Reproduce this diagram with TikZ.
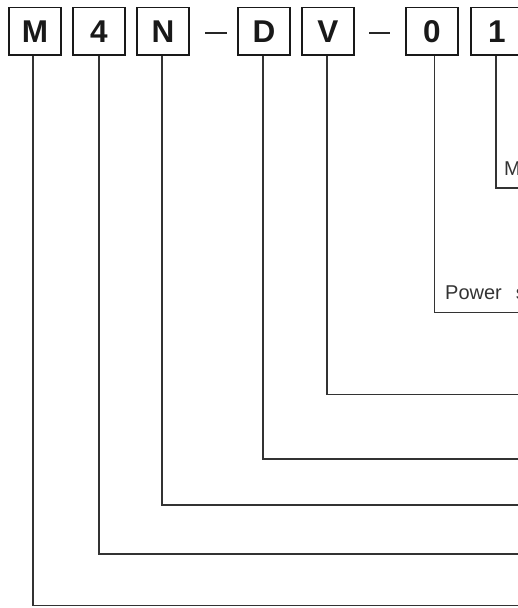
\documentclass[tikz,border=0pt]{standalone}
\usepackage{fontspec}
\setmainfont{Liberation Sans}
\begin{document}
\begin{tikzpicture}[x=1pt,y=-1pt,
  codebox/.style={draw=black!90,line width=1.6pt,minimum width=52pt,minimum height=47.5pt,inner sep=0pt,
    font=\fontsize{31.5}{31.5}\selectfont\bfseries,text=black!90},
  lead/.style={draw=black!80,line width=1.2pt},
  lbl/.style={font=\fontsize{20}{20}\selectfont,text=black!80,anchor=base west,inner sep=0pt},
  dashbar/.style={draw=black!85,line width=1.6pt}]
\useasboundingbox (0,0) rectangle (518,608);
\clip (0,0) rectangle (518,608);
% code boxes
\node[codebox] (bM) at (35,31.25) {M};
\node[codebox] (b4) at (99,31.25) {4};
\node[codebox] (bN) at (163,31.25) {N};
\node[codebox] (bD) at (264,31.25) {D};
\node[codebox] (bV) at (328,31.25) {V};
\node[codebox] (b0) at (432,31.25) {0};
\node[codebox] (b1) at (497,31.25) {1};
% separators
\coordinate (s1a) at (205,33); \coordinate (s1b) at (227,33);
\coordinate (s2a) at (369,33); \coordinate (s2b) at (390,33);
\draw[dashbar] (s1a) -- (s1b);
\draw[dashbar] (s2a) -- (s2b);
% right ends
\coordinate (e1) at (522,188);
\coordinate (e0) at (522,312.5);
\coordinate (eV) at (522,394.5);
\coordinate (eD) at (522,459);
\coordinate (eN) at (522,505);
\coordinate (e4) at (522,554);
\coordinate (eM) at (522,605.5);
% leads
\draw[lead] ([xshift=-1pt]b1.south) |- (e1);
\draw[lead] ([xshift=2.5pt]b0.south) |- (e0);
\draw[lead] ([xshift=-1pt]bV.south) |- (eV);
\draw[lead] ([xshift=-1pt]bD.south) |- (eD);
\draw[lead] ([xshift=-1pt]bN.south) |- (eN);
\draw[lead] (b4.south) |- (e4);
\draw[lead] ([xshift=-2pt]bM.south) |- (eM);
% labels
\node[lbl] (t1) at (504,175.5) {M};
\node[lbl] (t0) at (445,299.5) {Power\hspace{14pt}s};
\end{tikzpicture}
\end{document}
